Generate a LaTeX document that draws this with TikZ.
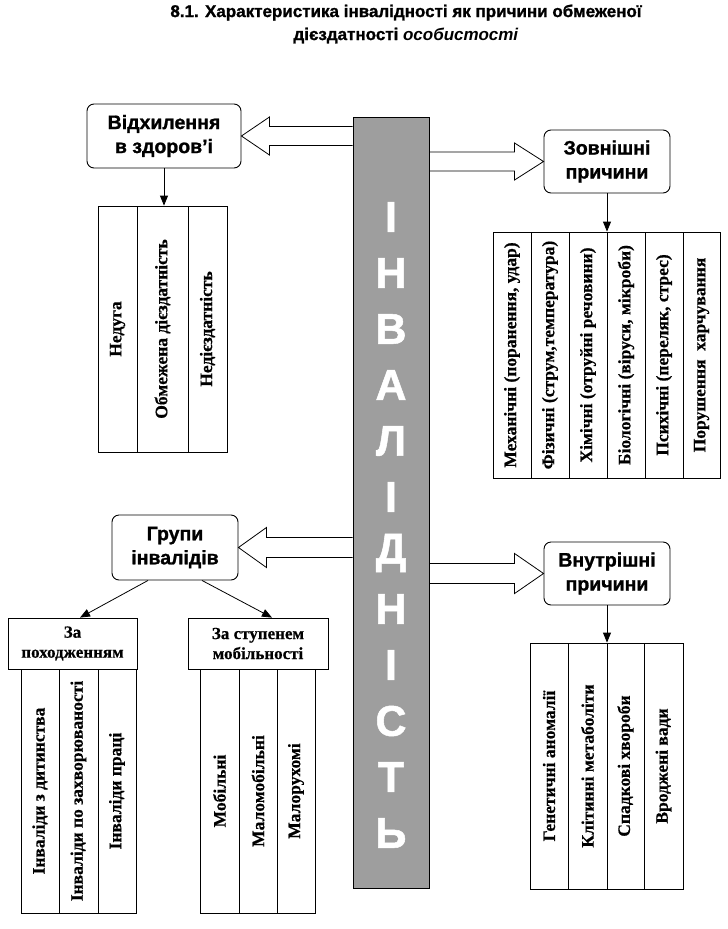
\documentclass[tikz,border=0pt]{standalone}
\usepackage{fontspec}
\setmainfont{Liberation Serif}[BoldFeatures={FakeBold=0.6}]
\setsansfont{Liberation Sans}[BoldFeatures={FakeBold=1.2}]
\usetikzlibrary{calc,arrows.meta}
\begin{document}
\begin{tikzpicture}[x=1pt,y=-1pt,
  rbox/.style={draw, rounded corners=7pt, line width=0.9pt, align=center,
    font=\sffamily\bfseries\fontsize{19.5}{24}\selectfont, inner sep=0pt},
  hbox/.style={draw, line width=0.8pt, align=center,
    font=\bfseries\fontsize{17}{20}\selectfont, inner sep=0pt},
  cell/.style={draw, line width=0.8pt, rotate=90, inner sep=0pt,
    font=\bfseries\fontsize{17.5}{18}\selectfont},
  hollow/.style={draw, line width=0.8pt},
  tip/.style={-{Triangle[length=10pt,width=8pt]}, line width=0.8pt},
  letter/.style={text=white, font=\sffamily\bfseries\fontsize{43}{43}\selectfont, inner sep=0pt},
]
\useasboundingbox (0,0) rectangle (728,929);

% title
\node[font=\sffamily\bfseries\fontsize{17}{23}\selectfont, align=center] (title) at (406,24)
  {8.1. Характеристика інвалідності як причини обмеженої\\ дієздатності \textit{особистості}};

% central column
\node[draw, fill=black!38, line width=0.9pt, minimum width=76pt, minimum height=771pt, inner sep=0pt] (col) at (391,502.5) {};
\foreach \l [count=\i from 0] in {І,Н,В,А,Л,І,Д,Н,І,С,Т,Ь}
  \node[letter] (let\i) at (391,217+56*\i) {\l};

% main boxes
\node[rbox, minimum width=154pt, minimum height=64pt] (A) at (164,136) {Відхилення\\в здоров’і};
\node[rbox, minimum width=126pt, minimum height=63pt] (B) at (607,161.5) {Зовнішні\\причини};
\node[rbox, minimum width=126pt, minimum height=65pt] (C) at (175,547.5) {Групи\\інвалідів};
\node[rbox, minimum width=126pt, minimum height=63pt] (D) at (607,573.5) {Внутрішні\\причини};

% hollow arrows
\draw[hollow] let \p1=(A.east), \p2=(col.west) in
  (\x2,\y1+9.5pt) -- (\x1+28pt,\y1+9.5pt) -- (\x1+28pt,\y1+19pt) -- (\p1)
  -- (\x1+28pt,\y1-19pt) -- (\x1+28pt,\y1-9.5pt) -- (\x2,\y1-9.5pt);
\draw[hollow] let \p1=(C.east), \p2=(col.west) in
  (\x2,\y1+10pt) -- (\x1+28pt,\y1+10pt) -- (\x1+28pt,\y1+20pt) -- (\p1)
  -- (\x1+28pt,\y1-20pt) -- (\x1+28pt,\y1-10pt) -- (\x2,\y1-10pt);
\draw[hollow] let \p1=(B.west), \p2=(col.east) in
  (\x2,\y1+9.5pt) -- (\x1-29pt,\y1+9.5pt) -- (\x1-29pt,\y1+18.5pt) -- (\p1)
  -- (\x1-29pt,\y1-18.5pt) -- (\x1-29pt,\y1-9.5pt) -- (\x2,\y1-9.5pt);
\draw[hollow] let \p1=(D.west), \p2=(col.east) in
  (\x2,\y1+10pt) -- (\x1-29pt,\y1+10pt) -- (\x1-29pt,\y1+20pt) -- (\p1)
  -- (\x1-29pt,\y1-20pt) -- (\x1-29pt,\y1-10pt) -- (\x2,\y1-10pt);

% table 1
\node[cell, minimum width=246pt, minimum height=39pt] (t1a) at (117.5,329) {Недуга};
\node[cell, minimum width=246pt, minimum height=51pt] (t1b) at (162.5,329) {Обмежена дієздатність};
\node[cell, minimum width=246pt, minimum height=39pt] (t1c) at (207.5,329) {Недієздатність};

% table 2
\node[cell, minimum width=246pt, minimum height=38pt] (t2a) at (512,355) {Механічні (поранення, удар)};
\node[cell, minimum width=246pt, minimum height=38pt] (t2b) at (550,355) {Фізичні (струм,температура)};
\node[cell, minimum width=246pt, minimum height=38pt] (t2c) at (588,355) {Хімічні (отруйні речовини)};
\node[cell, minimum width=246pt, minimum height=38pt] (t2d) at (626,355) {Біологічні (віруси, мікроби)};
\node[cell, minimum width=246pt, minimum height=38pt] (t2e) at (664,355) {Психічні (переляк, стрес)};
\node[cell, minimum width=246pt, minimum height=37pt] (t2f) at (701.5,355) {Порушення\ \ харчування};

% headers of groups
\node[hbox, minimum width=129pt, minimum height=51pt] (H1) at (72.5,643.5) {За\\походженням};
\node[hbox, minimum width=140pt, minimum height=51pt] (H2) at (258,643.5) {За ступенем\\мобільності};

% table 3
\node[cell, minimum width=244pt, minimum height=38pt] (t3a) at (40,791) {Інваліди з дитинства};
\node[cell, minimum width=244pt, minimum height=39pt] (t3b) at (78.5,791) {Інваліди по захворюваності};
\node[cell, minimum width=244pt, minimum height=38pt] (t3c) at (117,791) {Інваліди праці};

% table 4
\node[cell, minimum width=244pt, minimum height=39pt] (t4a) at (219.5,791) {Мобільні};
\node[cell, minimum width=244pt, minimum height=38pt] (t4b) at (258,791) {Маломобільні};
\node[cell, minimum width=244pt, minimum height=38pt] (t4c) at (296,791) {Малорухомі};

% table 5
\node[cell, minimum width=246pt, minimum height=38pt] (t5a) at (549,766) {Генетичні аномалії};
\node[cell, minimum width=246pt, minimum height=39pt] (t5b) at (587.5,766) {Клітинні метаболіти};
\node[cell, minimum width=246pt, minimum height=37pt] (t5c) at (625.5,766) {Спадкові хвороби};
\node[cell, minimum width=246pt, minimum height=39pt] (t5d) at (663.5,766) {Вроджені вади};

% connectors
\draw[tip] (A.south) -- (A.south |- t1b.east);
\draw[tip] (B.south) -- (B.south |- t2c.east);
\draw[tip] (D.south) -- (D.south |- t5b.east);
\draw[tip] ($(C.south)+(-27,0)$) -- ($(H1.north)+(7.5,0)$);
\draw[tip] ($(C.south)+(27,0)$) -- ($(H2.north)+(14,0)$);
\end{tikzpicture}
\end{document}
